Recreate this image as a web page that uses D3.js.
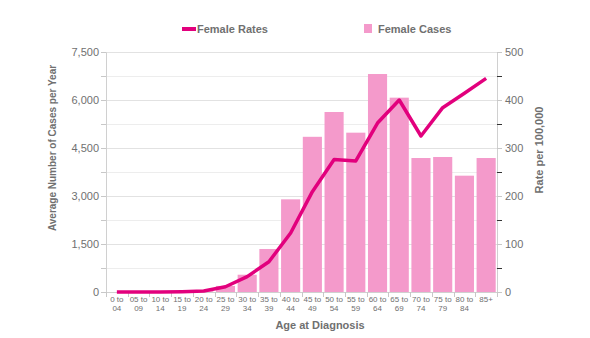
<!DOCTYPE html>
<html><head><meta charset="utf-8">
<script src="https://cdn.jsdelivr.net/npm/d3@7"></script>
<style>body{margin:0;background:#fff}svg{display:block;font-family:"Liberation Sans",Arial,sans-serif}</style>
</head><body><svg id="c" width="590" height="338"></svg>
<script>
const categories = ["0 to|04","05 to|09","10 to|14","15 to|19","20 to|24","25 to|29","30 to|34","35 to|39","40 to|44","45 to|49","50 to|54","55 to|59","60 to|64","65 to|69","70 to|74","75 to|79","80 to|84","85+"];
const femaleCases = [0,0,0,5,25,190,540,1344,2896,4850,5625,4979,6812,6073,4187,4219,3635,4187];
const femaleRates = [0,0,0,0.5,2,11,32,63,123,209,276,273,352,400,325,384,414,445];
const leftTicks = [0,1500,3000,4500,6000,7500];
const rightTicks = [0,100,200,300,400,500];

const svg = d3.select("#c");
const L=106, R=497, T=52, B=292;
const x = d3.scaleBand().domain(categories).range([L,R]).paddingInner(0.12).paddingOuter(0.06);
const yL = d3.scaleLinear().domain([0,7500]).range([B,T]);
const yR = d3.scaleLinear().domain([0,500]).range([B,T]);
const grey="#707070";

// gridlines
const gridVals = d3.range(0,7501,750);
svg.append("g").selectAll("line").data(gridVals).join("line")
  .attr("x1",L).attr("x2",R).attr("y1",d=>yL(d)+0.5).attr("y2",d=>yL(d)+0.5)
  .attr("stroke",d=>d%1500===0?"#e2e2e2":"#ededed");

// bars
svg.append("g").selectAll("rect").data(femaleCases).join("rect")
  .attr("x",(d,i)=>x(categories[i])).attr("width",x.bandwidth())
  .attr("y",d=>yL(d)).attr("height",d=>B-yL(d)).attr("fill","#f49acb");

// left axis
const gl = svg.append("g").attr("transform",`translate(${L},0)`)
  .call(d3.axisLeft(yL).tickValues(gridVals).tickSize(5).tickFormat(d=>leftTicks.includes(d)?d3.format(",")(d):""));
gl.select(".domain").attr("stroke","#d0d0d0");
gl.selectAll(".tick line").attr("stroke","#c8c8c8");
gl.selectAll("text").attr("fill",grey).attr("font-size",11).attr("x",-7);

// right axis
const rVals = d3.range(0,501,50);
const gr = svg.append("g").attr("transform",`translate(${R},0)`)
  .call(d3.axisRight(yR).tickValues(rVals).tickSize(5).tickFormat(d=>rightTicks.includes(d)?d:""));
gr.select(".domain").attr("stroke","#d0d0d0");
gr.selectAll(".tick line").attr("stroke",d=>d%100===0?"#c8c8c8":"#333");
gr.selectAll("text").attr("fill",grey).attr("font-size",11).attr("x",8);

// bottom axis
svg.append("line").attr("x1",L).attr("x2",R).attr("y1",B+0.5).attr("y2",B+0.5).attr("stroke","#d0d0d0");
const step = x.step();
const half = x.paddingInner()*step/2;
const bounds = categories.map(c=>x(c)-half).concat([x(categories[categories.length-1])+x.bandwidth()+half]);
svg.append("g").selectAll("line").data(bounds).join("line")
  .attr("x1",d=>Math.round(d)+0.5).attr("x2",d=>Math.round(d)+0.5)
  .attr("y1",B).attr("y2",B+5).attr("stroke","#c8c8c8");
const cl = svg.append("g").selectAll("text").data(categories).join("text")
  .attr("x",d=>x(d)+x.bandwidth()/2).attr("y",B+10)
  .attr("text-anchor","middle").attr("font-size",8).attr("fill",grey);
cl.each(function(d){
  const parts=d.split("|");
  parts.forEach((p,i)=>d3.select(this).append("tspan").attr("x",x(d)+x.bandwidth()/2).attr("dy",i===0?0:8.5).text(p));
});

// line
const line = d3.line().x((d,i)=>x(categories[i])+x.bandwidth()/2).y(d=>yR(d));
svg.append("path").datum(femaleRates).attr("d",line).attr("fill","none")
  .attr("stroke","#e2007d").attr("stroke-width",3.5).attr("stroke-linejoin","round");

// titles
svg.append("text").attr("transform","translate(56,148) rotate(-90)").attr("text-anchor","middle")
  .attr("font-size",10).attr("font-weight","bold").attr("fill",grey).text("Average Number of Cases per Year");
svg.append("text").attr("transform","translate(543,150) rotate(-90)").attr("text-anchor","middle")
  .attr("font-size",11).attr("font-weight","bold").attr("fill",grey).text("Rate per 100,000");
svg.append("text").attr("x",320).attr("y",329).attr("text-anchor","middle")
  .attr("font-size",11).attr("font-weight","bold").attr("fill",grey).text("Age at Diagnosis");

// legend
svg.append("rect").attr("x",182).attr("y",27).attr("width",14).attr("height",4).attr("fill","#e2007d");
svg.append("text").attr("x",197).attr("y",33).attr("font-size",11).attr("font-weight","bold").attr("fill",grey).text("Female Rates");
svg.append("rect").attr("x",364).attr("y",24).attr("width",8).attr("height",9).attr("fill","#f49acb");
svg.append("text").attr("x",378).attr("y",33).attr("font-size",11).attr("font-weight","bold").attr("fill",grey).text("Female Cases");
</script></body></html>
